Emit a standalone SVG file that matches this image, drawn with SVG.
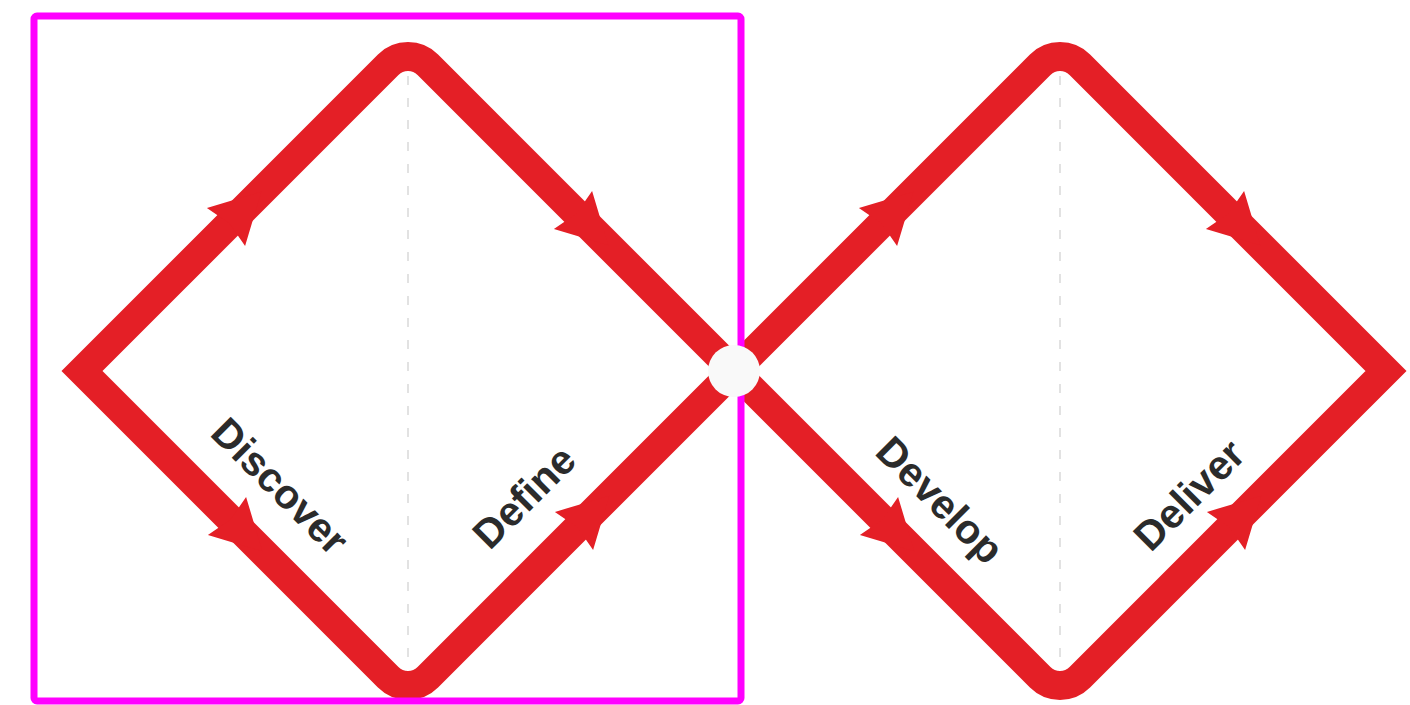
<svg xmlns="http://www.w3.org/2000/svg" xmlns:xlink="http://www.w3.org/1999/xlink" width="1410" height="705" viewBox="0 0 1410 705">
<style>
.dia{fill:none;stroke:#e41f26;stroke-width:29;stroke-linejoin:miter}
.axis{stroke:#e2e2e2;stroke-width:2;stroke-dasharray:9 13;fill:none}
.arr{fill:#e41f26}
.lbl{font-family:"Liberation Sans",Arial,sans-serif;font-weight:bold;font-size:41px;fill:#2b2b2b;text-anchor:middle}
</style>
<defs>
<path id="ah" d="M50 0 L0 -27 L5 0 L0 27 Z"/>
</defs>
<rect width="1410" height="705" fill="#ffffff"/>
<g id="diamond-left">
<line class="axis" x1="408" y1="76" x2="408" y2="668"/>
<path class="dia" d="M82 371 L388.2 64.8 A28 28 0 0 1 427.8 64.8 L734 371 L427.8 677.2 A28 28 0 0 1 388.2 677.2 Z"/>
</g>
<g id="diamond-right">
<line class="axis" x1="1060" y1="76" x2="1060" y2="668"/>
<path class="dia" d="M734 371 L1040.2 64.8 A28 28 0 0 1 1079.8 64.8 L1386 371 L1079.8 677.2 A28 28 0 0 1 1040.2 677.2 Z"/>
</g>
<g id="connectors" class="arr">
<use xlink:href="#ah" href="#ah" transform="translate(226 227) rotate(-45)"/>
<use xlink:href="#ah" href="#ah" transform="translate(573 210) rotate(45)"/>
<use xlink:href="#ah" href="#ah" transform="translate(227 516) rotate(45)"/>
<use xlink:href="#ah" href="#ah" transform="translate(574 531) rotate(-45)"/>
<use xlink:href="#ah" href="#ah" transform="translate(878 227) rotate(-45)"/>
<use xlink:href="#ah" href="#ah" transform="translate(1225 210) rotate(45)"/>
<use xlink:href="#ah" href="#ah" transform="translate(879 516) rotate(45)"/>
<use xlink:href="#ah" href="#ah" transform="translate(1226 531) rotate(-45)"/>
</g>
<g id="labels">
<text class="lbl" x="270" y="496" transform="rotate(45 270 496)">Discover</text>
<text class="lbl" x="534" y="507" transform="rotate(-45 534 507)">Define</text>
<text class="lbl" x="930" y="510" transform="rotate(45 930 510)">Develop</text>
<text class="lbl" x="1199" y="505" transform="rotate(-45 1199 505)">Deliver</text>
</g>
<g id="frame">
<rect x="34" y="16" width="707" height="685" rx="3" fill="none" stroke="#ff00ff" stroke-width="7"/>
</g>
<g id="center">
<circle cx="734" cy="371" r="26" fill="#f9f9f9"/>
</g>
</svg>
